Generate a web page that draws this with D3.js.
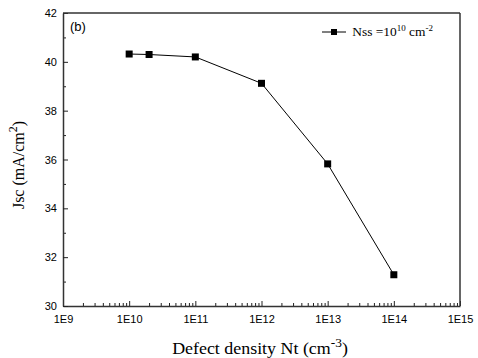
<!DOCTYPE html>
<html>
<head>
<meta charset="utf-8">
<script src="https://cdn.jsdelivr.net/npm/d3@7"></script>
<style>
  body { margin: 0; background: #fff; }
  svg { display: block; }
  .tick text { font-family: "Liberation Sans", Arial, sans-serif; font-size: 11px; fill: #000; }
</style>
</head>
<body>
<svg id="chart" width="478" height="358"></svg>
<script>
// data
const defectDensity = [1e10, 2e10, 1e11, 1e12, 1e13, 1e14];
const jsc = [40.32, 40.30, 40.20, 39.12, 35.82, 31.28];
const xTickValues = [1e9, 1e10, 1e11, 1e12, 1e13, 1e14, 1e15];
const xTickLabels = ["1E9", "1E10", "1E11", "1E12", "1E13", "1E14", "1E15"];
const yTickValues = [30, 32, 34, 36, 38, 40, 42];

const marginTop = 13, marginRight = 18, marginBottom = 52, marginLeft = 63;
const width = 478, height = 358;

const svg = d3.select("#chart");

const x = d3.scaleLog()
  .domain([1e9, 1e15])
  .range([marginLeft, width - marginRight]);

const y = d3.scaleLinear()
  .domain([30, 42])
  .range([height - marginBottom, marginTop]);

// minor ticks on x (2..9 of each decade)
const xMinor = [];
for (let e = 9; e < 15; e++) {
  for (let m = 2; m <= 9; m++) xMinor.push(m * Math.pow(10, e));
}
const yMinor = [31, 33, 35, 37, 39, 41];

// minor tick groups (inward)
svg.append("g")
  .attr("transform", `translate(0,${height - marginBottom})`)
  .call(d3.axisBottom(x).tickValues(xMinor).tickSize(-3).tickFormat(""))
  .call(g => g.select(".domain").remove())
  .selectAll("line").attr("stroke", "#222");

svg.append("g")
  .attr("transform", `translate(${marginLeft},0)`)
  .call(d3.axisLeft(y).tickValues(yMinor).tickSize(-3).tickFormat(""))
  .call(g => g.select(".domain").remove())
  .selectAll("line").attr("stroke", "#222");

// major axes
svg.append("g")
  .attr("transform", `translate(0,${height - marginBottom})`)
  .call(d3.axisBottom(x).tickValues(xTickValues)
    .tickFormat((d, i) => xTickLabels[i]).tickSize(-5).tickSizeOuter(0).tickPadding(9))
  .call(g => g.select(".domain").attr("stroke", "#333").attr("stroke-width", 1.5))
  .call(g => g.selectAll("line").attr("stroke", "#222"));

svg.append("g")
  .attr("transform", `translate(${marginLeft},0)`)
  .call(d3.axisLeft(y).tickValues(yTickValues).tickSize(-5).tickSizeOuter(0).tickPadding(6))
  .call(g => g.select(".domain").attr("stroke", "#333").attr("stroke-width", 1.5))
  .call(g => g.selectAll("line").attr("stroke", "#222"));

// top and right frame
svg.append("line")
  .attr("x1", marginLeft).attr("x2", width - marginRight)
  .attr("y1", marginTop).attr("y2", marginTop)
  .attr("stroke", "#333").attr("stroke-width", 1.5);
svg.append("line")
  .attr("x1", width - marginRight).attr("x2", width - marginRight)
  .attr("y1", marginTop).attr("y2", height - marginBottom)
  .attr("stroke", "#333").attr("stroke-width", 1.5);

// data line
const line = d3.line()
  .x(d => x(d[0]))
  .y(d => y(d[1]));
const pts = defectDensity.map((d, i) => [d, jsc[i]]);

svg.append("path")
  .datum(pts)
  .attr("fill", "none")
  .attr("stroke", "#000")
  .attr("stroke-width", 1)
  .attr("d", line);

svg.append("g")
  .selectAll("rect")
  .data(pts)
  .join("rect")
    .attr("x", d => x(d[0]) - 3.5)
    .attr("y", d => y(d[1]) - 3.5)
    .attr("width", 7)
    .attr("height", 7)
    .attr("fill", "#000");

// panel label
svg.append("text")
  .attr("x", 70).attr("y", 31)
  .attr("font-family", "Liberation Sans, Arial, sans-serif")
  .attr("font-size", 13)
  .text("(b)");

// legend
const lg = svg.append("g").attr("transform", "translate(322,32)");
lg.append("line").attr("x1", 0).attr("x2", 24).attr("y1", 0).attr("y2", 0)
  .attr("stroke", "#000").attr("stroke-width", 1);
lg.append("rect").attr("x", 9).attr("y", -3).attr("width", 6).attr("height", 6).attr("fill", "#000");
const lt = lg.append("text")
  .attr("x", 27).attr("y", 4)
  .attr("transform", "scale(1.12,1)")
  .attr("font-family", "Liberation Serif, Times New Roman, serif")
  .attr("font-size", 12);
lt.append("tspan").text("Nss =10");
lt.append("tspan").attr("font-size", 8).attr("dy", -5).text("10");
lt.append("tspan").attr("dy", 5).text(" cm");
lt.append("tspan").attr("font-size", 8).attr("dy", -5).text("-2");

// axis titles
const xt = svg.append("text")
  .attr("transform", "translate(260,354) scale(1.12,1)")
  .attr("text-anchor", "middle")
  .attr("font-family", "Liberation Serif, Times New Roman, serif")
  .attr("font-size", 16);
xt.append("tspan").text("Defect density Nt (cm");
xt.append("tspan").attr("font-size", 12).attr("dy", -7).text("-3");
xt.append("tspan").attr("dy", 7).text(")");

const yt = svg.append("text")
  .attr("transform", "translate(24,165) rotate(-90)")
  .attr("text-anchor", "middle")
  .attr("font-family", "Liberation Serif, Times New Roman, serif")
  .attr("font-size", 16);
yt.append("tspan").text("Jsc (mA/cm");
yt.append("tspan").attr("font-size", 12).attr("dy", -7).text("2");
yt.append("tspan").attr("dy", 7).text(")");
</script>
</body>
</html>
